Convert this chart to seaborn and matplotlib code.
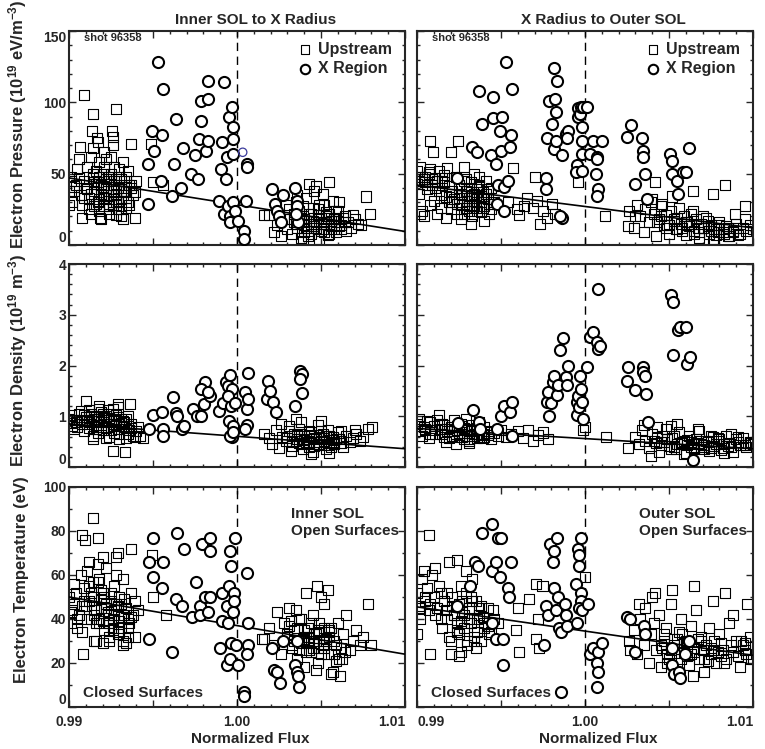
import matplotlib
matplotlib.use("Agg")
import matplotlib.pyplot as plt
import seaborn as sns
from matplotlib.ticker import MultipleLocator

# ---------------- data ----------------
# columns: inner SOL -> X radius (in), X radius -> outer SOL (out)
# rows: pressure (p), density (n), temperature (t)

p_in_sq_x = [0.9901, 0.9903, 0.9902, 0.9905, 0.9904, 0.9907, 0.9906, 0.9909, 0.9908, 0.9911,
             0.9910, 0.9912, 0.9913, 0.9912, 0.9914, 0.9915, 0.9914, 0.9916, 0.9917, 0.9916,
             0.9918, 0.9919, 0.9918, 0.9920, 0.9921, 0.9920, 0.9922, 0.9921, 0.9923, 0.9924,
             0.9923, 0.9925, 0.9926, 0.9925, 0.9927, 0.9928, 0.9927, 0.9929, 0.9930, 0.9929,
             0.9931, 0.9932, 0.9931, 0.9933, 0.9934, 0.9935, 0.9936, 0.9937, 0.9938, 0.9940,
             0.9913, 0.9919, 0.9924, 0.9928, 0.9932, 0.9917, 0.9922, 0.9926, 0.9930, 0.9935,
             0.9909, 0.9914, 0.9928, 0.99135, 0.99256, 0.99264, 0.99165, 0.99065, 0.99367, 0.99486,
             0.99502, 0.99562, 0.99077, 0.99185, 0.99393, 0.9900, 0.9901, 0.9900, 1.0016, 1.0019,
             1.0022, 1.0024, 1.0026, 1.0028, 1.0030, 1.0031, 1.0033, 1.0034, 1.0035, 1.0036,
             1.0037, 1.0038, 1.0039, 1.0040, 1.0041, 1.0042, 1.0043, 1.0044, 1.0045, 1.0046,
             1.0047, 1.0048, 1.0049, 1.0050, 1.0051, 1.0052, 1.0053, 1.0054, 1.0055, 1.0056,
             1.0057, 1.0058, 1.0059, 1.0060, 1.0062, 1.0064, 1.0066, 1.0068, 1.0070, 1.0072,
             1.0029, 1.0036, 1.0043, 1.0047, 1.0051, 1.0039, 1.0055, 1.0061, 1.0077, 1.0079,
             1.0040, 1.0044, 1.0048, 1.0052, 1.0056, 1.0045, 1.0050, 1.0053, 1.0058, 1.0063,
             1.0034, 1.0038, 1.0042, 1.0046, 1.0049, 1.0054, 1.0059, 1.0065, 1.0069, 1.0074,
             0.9915, 0.9918, 0.9922, 0.9925, 0.9928, 0.9931, 0.9934, 0.9920, 0.9926, 0.9933,
             0.9913, 0.9916, 0.9919, 0.9921, 0.9924, 0.9927, 0.9929, 0.9932, 0.9934, 0.9937,
             0.9914, 0.9917, 0.9920, 0.9923, 0.9926, 0.9929, 0.9931, 0.9934, 0.9936, 0.9939,
             0.9903, 0.9906, 0.9909, 0.9911, 0.9915, 0.9918, 0.9922, 0.9925, 0.9928, 0.9931,
             1.0035, 1.0038, 1.0041, 1.0044, 1.0047, 1.0050, 1.0053, 1.0056, 1.0059, 1.0062,
             1.0037, 1.0040, 1.0043, 1.0046, 1.0049, 1.0052, 1.0055, 1.0058, 1.0061, 1.0064]
p_in_sq_y = [48, 38, 30, 53, 42, 35, 60, 45, 28, 55,
             40, 33, 62, 25, 47, 38, 68, 52, 30, 43,
             58, 36, 48, 27, 65, 41, 33, 55, 45, 22,
             38, 50, 30, 62, 42, 35, 55, 25, 48, 40,
             33, 58, 20, 45, 38, 52, 28, 42, 35, 45,
             22, 18, 25, 30, 18, 72, 60, 70, 53, 30,
             105, 92, 95, 80, 80, 76, 75, 69, 71, 71,
             44, 42, 19, 19, 19, 28, 45, 38, 21, 21,
             9, 14, 6, 18, 11, 25, 8, 16, 30, 12,
             20, 5, 27, 14, 33, 10, 22, 8, 17, 38,
             12, 25, 4, 19, 11, 28, 15, 7, 22, 13,
             31, 18, 9, 24, 14, 20, 16, 12, 18, 15,
             28, 35, 43, 41, 36, 3, 44, 30, 34, 22,
             18, 12, 21, 9, 17, 26, 15, 23, 11, 19,
             22, 17, 6, 13, 28, 19, 24, 10, 21, 14,
             44, 32, 40, 46, 36, 42, 48, 50, 28, 38,
             36, 29, 42, 33, 27, 45, 31, 38, 26, 40,
             50, 44, 35, 48, 39, 30, 46, 33, 42, 37,
             41, 47, 33, 39, 27, 24, 46, 35, 21, 25,
             15, 19, 12, 22, 16, 10, 20, 14, 18, 11,
             24, 9, 17, 13, 21, 16, 8, 19, 13, 16]
p_in_ci_x = [0.99472, 0.99492, 0.99506, 0.99472, 0.99532, 0.99558, 0.99556, 0.99546, 0.99611, 0.99627,
             0.99639, 0.99665, 0.99677, 0.99726, 0.99750, 0.99770, 0.99772, 0.99786, 0.99788, 0.99815,
             0.99825, 0.99829, 0.99829, 0.99903, 0.99913, 0.99923, 0.99938, 0.99935, 0.99895, 0.99923,
             0.99944, 0.99958, 0.99958, 0.99954, 0.99972, 0.99978, 0.99978, 0.99978, 0.99978, 0.99990,
             1.00008, 1.00044, 1.00044, 1.00058, 1.00062, 1.00054,
             1.00210, 1.00228, 1.00240, 1.00252, 1.00262, 1.00276, 1.00345, 1.00360, 1.00360, 1.00365, 1.00353]
p_in_ci_y = [29, 80, 66, 57, 128, 109, 77, 45, 34, 57,
             88, 40, 68, 50, 63, 46, 74, 101, 87, 66,
             102, 73, 115, 53, 72, 114, 62, 46, 31, 22,
             27, 20, 16, 90, 97, 83, 74, 64, 30, 24,
             17, 10, 4, 57, 55, 31,
             39, 29, 24, 20, 16, 35, 40, 31, 27, 16, 22]
p_in_odd_x = [1.00034]
p_in_odd_y = [65]

p_out_sq_x = [0.9900, 0.9901, 0.9903, 0.9902, 0.9905, 0.9904, 0.9907, 0.9906, 0.9909, 0.9908,
              0.9911, 0.9913, 0.9912, 0.9915, 0.9914, 0.9917, 0.9916, 0.9919, 0.9918, 0.9921,
              0.9920, 0.9923, 0.9922, 0.9925, 0.9924, 0.9926, 0.9927, 0.9928, 0.9929, 0.9930,
              0.9931, 0.9932, 0.9933, 0.9934, 0.9935, 0.9936, 0.9937, 0.9938, 0.9939, 0.9940,
              0.9941, 0.9942, 0.9943, 0.9944, 0.9946, 0.9926, 0.9929, 0.9932, 0.9935, 0.9938,
              0.9928, 0.9933, 0.9937, 0.9940, 0.9924, 0.9930, 0.9934, 0.9936, 0.9939, 0.9931,
              0.99077, 0.99246, 0.99200, 0.99097, 0.99573, 0.99702, 0.99712, 0.99772, 0.99732, 0.99960,
              0.99593, 0.99637, 0.99692, 0.99802, 0.99821, 1.00119, 0.99540, 0.99610, 0.99655, 0.99750,
              1.0026, 1.0029, 1.0031, 1.0033, 1.0035, 1.0036, 1.0038, 1.0039, 1.0041, 1.0042,
              1.0044, 1.0045, 1.0047, 1.0048, 1.0050, 1.0051, 1.0053, 1.0054, 1.0056, 1.0057,
              1.0059, 1.0060, 1.0062, 1.0063, 1.0065, 1.0066, 1.0068, 1.0069, 1.0071, 1.0072,
              1.0074, 1.0075, 1.0077, 1.0078, 1.0080, 1.0082, 1.0084, 1.0086, 1.0088, 1.0090,
              1.0092, 1.0094, 1.0096, 1.0098, 1.0100, 1.0040, 1.0046, 1.0052, 1.0058, 1.0064,
              1.0070, 1.0076, 1.0083, 1.0089, 1.0095, 1.00833, 1.00764, 1.00645, 1.00417, 1.00952,
              1.00258, 1.0030, 1.0049, 1.0055, 1.0061, 1.0067, 1.0073, 1.0079, 1.0085, 1.0091,
              0.9900, 0.9901, 0.9902, 0.9904, 0.9906, 0.9908, 0.9910, 0.9912, 0.9914, 0.9916,
              0.9925, 0.9927, 0.9929, 0.9931, 0.9933, 0.9935, 0.9937, 0.9939, 0.9941, 0.9943,
              0.9926, 0.9928, 0.9930, 0.9932, 0.9934, 0.9936, 0.9938, 0.9940, 0.9942, 0.9944,
              0.9903, 0.9905, 0.9907, 0.9909, 0.9911, 0.9913, 0.9915, 0.9917, 0.9919, 0.9921,
              1.0043, 1.0048, 1.0053, 1.0058, 1.0063, 1.0068, 1.0073, 1.0078, 1.0083, 1.0088,
              1.0045, 1.0050, 1.0055, 1.0060, 1.0065, 1.0070, 1.0075, 1.0080, 1.0085, 1.0090]
p_out_sq_y = [52, 45, 24, 55, 48, 20, 50, 42, 46, 28,
              40, 52, 22, 47, 35, 19, 44, 30, 54, 38,
              25, 48, 32, 42, 22, 36, 30, 45, 26, 38,
              33, 40, 28, 50, 35, 24, 42, 30, 37, 27,
              45, 32, 22, 40, 30, 18, 46, 15, 26, 34,
              55, 20, 48, 17, 29, 31, 36, 39, 33, 27,
              73, 73, 65, 65, 54, 48, 31, 19, 15, 44,
              25, 27, 26, 29, 22, 20, 30, 21, 33, 24,
              24, 12, 28, 20, 9, 25, 16, 30, 22, 6,
              18, 27, 14, 21, 8, 24, 17, 11, 26, 15,
              20, 7, 13, 22, 10, 18, 5, 15, 12, 19,
              8, 14, 4, 11, 16, 9, 13, 6, 10, 15,
              8, 12, 10, 14, 11, 32, 29, 34, 12, 24,
              20, 3, 8, 22, 18, 42, 36, 38, 44, 27,
              13, 20, 14, 19, 16, 12, 17, 9, 12, 7,
              43, 36, 22, 46, 39, 53, 31, 45, 26, 49,
              33, 28, 38, 24, 35, 30, 41, 26, 36, 29,
              40, 22, 31, 44, 27, 37, 23, 33, 39, 25,
              48, 44, 51, 42, 47, 38, 45, 34, 41, 30,
              16, 12, 18, 10, 15, 9, 13, 7, 11, 9,
              20, 14, 11, 16, 8, 12, 10, 14, 6, 12]
p_out_ci_x = [0.99240, 0.99325, 0.99355, 0.99369, 0.99385, 0.99450, 0.99454, 0.99440, 0.99472, 0.99498,
              0.99508, 0.99494, 0.99484, 0.99474, 0.99518, 0.99518, 0.99530, 0.99544, 0.99554, 0.99560,
              0.99565, 0.99768, 0.99766, 0.99772, 0.99788, 0.99802, 0.99815, 0.99821, 0.99827, 0.99833,
              0.99815, 0.99827, 0.99865, 0.99865, 0.99851, 0.99885, 0.99897, 0.99895, 0.99950, 0.99946,
              0.99956, 0.99960, 0.99970, 0.99980, 0.99980, 0.99980, 0.99980, 0.99976, 0.99986, 1.00010,
              1.00030, 1.00046, 1.00069, 1.00073, 1.00065, 1.00079, 1.00069, 1.00099, 1.00248, 1.00272,
              1.00298, 1.00337, 1.00347, 1.00347, 1.00357, 1.00371, 1.00506, 1.00516, 1.00516, 1.00546,
              1.00556, 1.00585, 1.00599, 1.00621]
p_out_ci_y = [47, 69, 65, 108, 85, 89, 104, 63, 57, 66,
              90, 80, 42, 29, 24, 41, 128, 45, 69, 77,
              109, 47, 39, 75, 101, 85, 124, 102, 93, 115,
              67, 73, 63, 19, 20, 78, 80, 75, 56, 51,
              96, 90, 92, 83, 73, 64, 52, 97, 97, 97,
              64, 73, 62, 60, 50, 39, 34, 73, 76, 84,
              43, 75, 66, 62, 50, 32, 64, 59, 50, 45,
              36, 51, 51, 68]

n_in_sq_x = [0.9900, 0.9902, 0.9901, 0.9904, 0.9903, 0.9906, 0.9905, 0.9908, 0.9907, 0.9910,
             0.9909, 0.9912, 0.9911, 0.9914, 0.9913, 0.9916, 0.9915, 0.9918, 0.9917, 0.9920,
             0.9919, 0.9922, 0.9921, 0.9924, 0.9923, 0.9926, 0.9925, 0.9928, 0.9927, 0.9930,
             0.9929, 0.9932, 0.9931, 0.9934, 0.9933, 0.9936, 0.9935, 0.9938, 0.9937, 0.9940,
             0.9914, 0.9918, 0.9922, 0.9926, 0.9930, 0.9934, 0.9912, 0.9916, 0.9920, 0.9928,
             0.99101, 0.99294, 0.99363, 0.99264, 0.99333, 0.9942, 0.9944, 0.9941, 0.9915, 0.9921,
             1.0016, 1.0019, 1.0021, 1.0023, 1.0025, 1.0027, 1.0029, 1.0031, 1.0033, 1.0034,
             1.0036, 1.0037, 1.0039, 1.0040, 1.0042, 1.0043, 1.0045, 1.0046, 1.0048, 1.0049,
             1.0051, 1.0052, 1.0054, 1.0055, 1.0057, 1.0058, 1.0060, 1.0061, 1.0063, 1.0065,
             1.0067, 1.0069, 1.0071, 1.0073, 1.0075, 1.0026, 1.0032, 1.0038, 1.0044, 1.0050,
             1.0056, 1.0062, 1.0035, 1.0047, 1.0053, 1.00802, 1.00782, 1.0070, 1.0041, 1.0044,
             1.0048, 1.0052, 1.0055, 1.0058, 1.0038, 1.0043, 1.0050, 1.0057, 1.0062, 1.0035,
             0.9908, 0.9911, 0.9913, 0.9916, 0.9918, 0.9921, 0.9923, 0.9926, 0.9928, 0.9931,
             0.9909, 0.9912, 0.9915, 0.9917, 0.9920, 0.9922, 0.9925, 0.9927, 0.9930, 0.9933,
             0.9901, 0.9903, 0.9905, 0.9919, 0.9924, 0.9929, 0.9932, 0.9935, 0.9937, 0.9939,
             1.0030, 1.0033, 1.0036, 1.0039, 1.0041, 1.0044, 1.0046, 1.0049, 1.0052, 1.0055,
             1.0031, 1.0034, 1.0037, 1.0040, 1.0043, 1.0047, 1.0050, 1.0053, 1.0056, 1.0059]
n_in_sq_y = [0.95, 0.80, 1.02, 0.88, 0.75, 1.05, 0.92, 0.85, 1.10, 0.98,
             0.70, 1.12, 0.90, 0.62, 1.05, 0.82, 0.95, 1.15, 0.68, 0.92,
             1.08, 0.78, 0.98, 0.60, 1.12, 0.85, 0.72, 1.02, 0.90, 0.65,
             1.18, 0.80, 0.95, 0.58, 0.88, 0.72, 1.00, 0.62, 0.85, 0.70,
             0.55, 1.20, 0.58, 1.15, 0.55, 0.95, 0.88, 0.75, 1.05, 0.82,
             1.30, 1.25, 1.25, 0.31, 0.29, 0.62, 0.58, 0.78, 1.00, 0.96,
             0.65, 0.58, 0.45, 0.72, 0.38, 0.60, 0.52, 0.80, 0.42, 0.66,
             0.55, 0.75, 0.35, 0.62, 0.48, 0.70, 0.30, 0.58, 0.82, 0.44,
             0.65, 0.52, 0.72, 0.28, 0.60, 0.46, 0.68, 0.55, 0.40, 0.62,
             0.50, 0.58, 0.66, 0.52, 0.60, 0.85, 0.32, 0.88, 0.25, 0.90,
             0.40, 0.70, 0.95, 0.55, 0.35, 0.78, 0.75, 0.72, 0.50, 0.62,
             0.45, 0.58, 0.62, 0.50, 0.66, 0.40, 0.70, 0.54, 0.47, 0.52,
             0.92, 0.85, 1.00, 0.78, 0.95, 0.88, 1.05, 0.80, 0.93, 0.86,
             1.02, 0.76, 0.98, 0.90, 0.72, 1.00, 0.94, 0.68, 0.84, 0.78,
             0.86, 0.92, 0.78, 0.82, 0.96, 0.74, 0.90, 0.66, 0.76, 0.60,
             0.58, 0.50, 0.64, 0.46, 0.56, 0.68, 0.42, 0.60, 0.50, 0.44,
             0.70, 0.62, 0.48, 0.54, 0.64, 0.50, 0.58, 0.62, 0.48, 0.56]
n_in_ci_x = [0.99476, 0.99502, 0.99556, 0.99558, 0.99562, 0.99617, 0.99635, 0.99641, 0.99671, 0.99687,
             0.99736, 0.99760, 0.99784, 0.99810, 0.99788, 0.99804, 0.99839, 0.99829, 0.99895, 0.99915,
             0.99933, 0.99944, 0.99958, 0.99972, 0.99964, 0.99954, 0.99948, 0.99968, 0.99958, 0.99978,
             0.99988, 0.99978, 1.00048, 1.00058, 1.00067, 1.00067, 1.00058, 1.00048, 1.00177, 1.00183,
             1.00196, 1.00212, 1.00230, 1.00345, 1.00375, 1.00385, 1.00375, 1.00385]
n_in_ci_y = [0.75, 1.02, 1.08, 0.74, 0.61, 1.38, 1.07, 1.00, 0.74, 0.80,
             1.15, 1.00, 1.01, 1.67, 1.53, 1.25, 1.40, 1.48, 1.10, 1.27,
             1.67, 1.59, 1.81, 1.54, 1.20, 0.90, 1.40, 0.59, 0.61, 0.80,
             1.27, 0.69, 1.48, 1.15, 1.86, 1.34, 0.82, 0.74, 1.34, 1.69,
             1.50, 1.28, 1.08, 1.21, 1.90, 1.83, 1.74, 1.45]

n_out_sq_x = [0.9900, 0.9902, 0.9901, 0.9904, 0.9903, 0.9906, 0.9905, 0.9908, 0.9907, 0.9910,
              0.9912, 0.9911, 0.9914, 0.9913, 0.9916, 0.9915, 0.9918, 0.9917, 0.9920, 0.9922,
              0.9921, 0.9924, 0.9923, 0.9926, 0.9925, 0.9928, 0.9927, 0.9930, 0.9929, 0.9932,
              0.9931, 0.9934, 0.9933, 0.9936, 0.9935, 0.9938, 0.9937, 0.9940, 0.9942, 0.9944,
              0.9946, 0.9948, 0.9950, 0.9953, 0.9956, 0.9960, 0.9963, 0.9966, 0.9969, 0.9972,
              0.9975, 0.9978, 1.0000, 1.00125, 1.00258, 0.9999, 0.9927, 0.9931, 0.9935, 0.9939,
              1.0030, 1.0032, 1.0034, 1.0036, 1.0038, 1.0040, 1.0042, 1.0044, 1.0046, 1.0048,
              1.0050, 1.0052, 1.0054, 1.0056, 1.0058, 1.0060, 1.0062, 1.0064, 1.0066, 1.0068,
              1.0070, 1.0072, 1.0074, 1.0076, 1.0078, 1.0080, 1.0082, 1.0084, 1.0086, 1.0088,
              1.0090, 1.0092, 1.0094, 1.0096, 1.0098, 1.0100, 1.0035, 1.0043, 1.0051, 1.0059,
              1.0067, 1.0075, 1.0083, 1.0091, 1.0039, 1.0055, 1.0071, 1.0087, 1.0045, 1.0061,
              1.0049, 1.0057, 1.0065, 1.0073, 1.0079, 1.0085, 1.0053, 1.0063, 1.0069, 1.0081,
              0.9915, 0.9918, 0.9921, 0.9924, 0.9927, 0.9930, 0.9933, 0.9936, 0.9939, 0.9942,
              0.9916, 0.9919, 0.9922, 0.9925, 0.9928, 0.9931, 0.9934, 0.9937, 0.9940, 0.9943,
              0.9902, 0.9905, 0.9908, 0.9911, 0.9913,
              1.0041, 1.0045, 1.0049, 1.0053, 1.0057, 1.0061, 1.0065, 1.0069, 1.0073, 1.0077,
              1.0043, 1.0047, 1.0051, 1.0055, 1.0059, 1.0063, 1.0067, 1.0071, 1.0075, 1.0079,
              1.0083, 1.0087, 1.0091, 1.0095, 1.0099]
n_out_sq_y = [0.85, 0.70, 0.95, 0.78, 0.62, 0.90, 0.72, 0.88, 0.58, 0.80,
              0.92, 0.66, 0.75, 1.02, 0.60, 0.84, 0.70, 0.50, 0.78, 0.92,
              0.62, 0.72, 0.45, 0.85, 0.68, 0.55, 0.80, 0.62, 0.95, 0.70,
              0.48, 0.66, 0.82, 0.58, 0.74, 0.64, 0.88, 0.60, 0.70, 0.56,
              0.68, 0.62, 0.72, 0.60, 0.66, 0.70, 0.58, 0.72, 0.52, 0.64,
              0.68, 0.55, 0.79, 0.59, 0.37, 0.72, 0.60, 0.52, 0.66, 0.58,
              0.60, 0.45, 0.72, 0.52, 0.38, 0.66, 0.48, 0.30, 0.62, 0.75,
              0.42, 0.58, 0.35, 0.68, 0.50, 0.28, 0.62, 0.45, 0.55, 0.70,
              0.40, 0.52, 0.32, 0.60, 0.46, 0.56, 0.38, 0.62, 0.48, 0.30,
              0.55, 0.44, 0.58, 0.40, 0.50, 0.46, 0.82, 0.78, 0.80, 0.25,
              0.75, 0.62, 0.28, 0.60, 0.22, 0.85, 0.35, 0.66, 0.50, 0.44,
              0.55, 0.48, 0.36, 0.52, 0.58, 0.42, 0.62, 0.50, 0.40, 0.34,
              0.66, 0.74, 0.60, 0.80, 0.68, 0.72, 0.62, 0.76, 0.66, 0.64,
              0.82, 0.58, 0.70, 0.64, 0.76, 0.56, 0.72, 0.60, 0.78, 0.68,
              0.80, 0.74, 0.66, 0.72, 0.84,
              0.52, 0.44, 0.56, 0.40, 0.48, 0.54, 0.38, 0.46, 0.50, 0.42,
              0.58, 0.50, 0.36, 0.46, 0.52, 0.40, 0.48, 0.44, 0.38, 0.52,
              0.46, 0.40, 0.50, 0.44, 0.48]
n_out_ci_x = [0.99242, 0.99335, 0.99371, 0.99375, 0.99474, 0.99500, 0.99518, 0.99554, 0.99563, 0.99563,
              0.99772, 0.99782, 0.99786, 0.99796, 0.99810, 0.99815, 0.99835, 0.99841, 0.99851, 0.99867,
              0.99885, 0.99897, 0.99891, 0.99950, 0.99950, 0.99960, 0.99964, 0.99970, 0.99976, 0.99980,
              0.99986, 1.00010, 1.00030, 1.00050, 1.00070, 1.00080, 1.00090, 1.00080, 1.00248, 1.00258,
              1.00298, 1.00347, 1.00347, 1.00357, 1.00361, 1.00377, 1.00512, 1.00522, 1.00556, 1.00565,
              1.00599, 1.00522, 1.00605, 1.00625, 1.00645]
n_out_ci_y = [0.87, 1.13, 0.89, 0.75, 0.75, 1.00, 1.21, 1.08, 1.28, 0.61,
              1.28, 1.48, 1.00, 1.27, 1.67, 1.80, 1.41, 1.62, 2.31, 2.54,
              1.77, 2.00, 1.61, 1.28, 1.02, 1.40, 1.18, 1.80, 1.54, 1.28,
              0.95, 1.98, 2.56, 2.66, 2.46, 2.33, 2.39, 3.50, 1.69, 1.97,
              1.51, 1.97, 1.88, 1.80, 1.44, 0.89, 3.38, 3.26, 2.70, 2.75,
              2.75, 2.21, 2.03, 2.16, 0.13]

t_in_sq_x = [0.9900, 0.9901, 0.9903, 0.9902, 0.9905, 0.9904, 0.9907, 0.9906, 0.9909, 0.9908,
             0.9911, 0.9910, 0.9913, 0.9912, 0.9915, 0.9914, 0.9917, 0.9916, 0.9919, 0.9918,
             0.9921, 0.9920, 0.9923, 0.9922, 0.9925, 0.9924, 0.9927, 0.9926, 0.9929, 0.9928,
             0.9931, 0.9930, 0.9933, 0.9932, 0.9935, 0.9934, 0.9937, 0.9936, 0.9939, 0.9941,
             0.9912, 0.9916, 0.9920, 0.9924, 0.9928, 0.9932, 0.9918, 0.9926, 0.9914, 0.9922,
             0.9930, 0.9938, 0.99141, 0.99075, 0.99095, 0.99171, 0.99081, 0.99367, 0.99492, 0.99498,
             0.99575, 0.9929, 0.9934, 0.9920, 1.0016, 1.0019, 1.0022, 1.0024, 1.0026, 1.0028,
             1.0030, 1.0031, 1.0033, 1.0034, 1.0036, 1.0037, 1.0039, 1.0040, 1.0042, 1.0043,
             1.0045, 1.0046, 1.0048, 1.0049, 1.0051, 1.0052, 1.0054, 1.0055, 1.0057, 1.0058,
             1.0060, 1.0061, 1.0063, 1.0065, 1.0067, 1.0069, 1.0071, 1.0073, 1.0032, 1.0038,
             1.0044, 1.0050, 1.0056, 1.0062, 1.0041, 1.0047, 1.0053, 1.0059, 1.0035, 1.00782,
             1.00798, 1.00544, 1.00474, 1.00623, 1.00613, 1.00147, 1.0075, 1.0046, 1.0052, 1.0064,
             0.9915, 0.9919, 0.9923, 0.9927, 0.9931, 0.9935, 1.0040, 1.0048, 1.0055, 1.0058,
             0.9908, 0.9911, 0.9913, 0.9916, 0.9918, 0.9921, 0.9923, 0.9926, 0.9928, 0.9931,
             0.9909, 0.9912, 0.9915, 0.9917, 0.9920, 0.9922, 0.9925, 0.9927, 0.9930, 0.9933,
             0.9901, 0.9903, 0.9905, 0.9919, 0.9924, 0.9929, 0.9932, 0.9935, 0.9937, 0.9939,
             1.0030, 1.0033, 1.0036, 1.0039, 1.0041, 1.0044, 1.0046, 1.0049, 1.0052, 1.0055,
             1.0031, 1.0034, 1.0037, 1.0040, 1.0043, 1.0047, 1.0050, 1.0053, 1.0056, 1.0059,
             1.0038, 1.0042, 1.0045, 1.0048, 1.0051]
t_in_sq_y = [50, 38, 56, 44, 36, 52, 60, 42, 48, 34,
             62, 46, 40, 55, 30, 50, 65, 38, 45, 58,
             35, 52, 42, 63, 48, 30, 55, 40, 46, 68,
             36, 50, 42, 58, 32, 45, 52, 38, 48, 44,
             66, 30, 68, 32, 60, 28, 40, 35, 57, 47,
             39, 42, 86, 78, 76, 77, 24, 72, 69, 50,
             42, 70, 29, 29, 31, 36, 28, 43, 24, 38,
             32, 45, 27, 35, 22, 40, 30, 18, 36, 26,
             42, 33, 20, 38, 28, 47, 24, 34, 16, 30,
             38, 22, 33, 42, 26, 30, 35, 28, 39, 29,
             25, 50, 15, 27, 52, 17, 31, 21, 44, 47,
             28, 53, 55, 22, 14, 31, 32, 30, 36, 25,
             44, 49, 38, 42, 47, 40, 32, 27, 35, 24,
             46, 40, 52, 44, 38, 50, 43, 36, 47, 41,
             54, 48, 42, 57, 39, 45, 52, 44, 34, 49,
             43, 47, 40, 53, 38, 33, 30, 36, 41, 32,
             33, 28, 36, 31, 25, 38, 29, 34, 27, 32,
             37, 30, 26, 35, 29, 33, 24, 30, 36, 28,
             40, 32, 27, 35, 30]
t_in_ci_x = [0.99476, 0.99478, 0.99498, 0.99502, 0.99556, 0.99558, 0.99615, 0.99641, 0.99635, 0.99673,
             0.99687, 0.99730, 0.99756, 0.99782, 0.99780, 0.99792, 0.99808, 0.99829, 0.99839, 0.99841,
             0.99839, 0.99899, 0.99909, 0.99913, 0.99944, 0.99954, 0.99958, 0.99962, 0.99940, 0.99966,
             0.99938, 0.99958, 0.99974, 0.99984, 0.99984, 0.99988, 0.99992, 1.00008, 1.00058, 1.00064,
             1.00058, 1.00064, 1.00044, 1.00044, 1.00210, 1.00222, 1.00236, 1.00256, 1.00272, 1.00343,
             1.00360, 1.00365, 1.00370, 1.00360]
t_in_ci_y = [31, 66, 77, 59, 54, 66, 25, 79, 49, 46,
             72, 41, 57, 46, 42, 74, 50, 43, 50, 77,
             71, 27, 39, 52, 38, 55, 71, 64, 46, 29,
             19, 22, 43, 52, 48, 77, 28, 19, 61, 28,
             24, 38, 7, 5, 27, 17, 16, 11, 30, 19,
             16, 14, 9, 30]

t_out_sq_x = [0.9900, 0.9901, 0.9903, 0.9902, 0.9905, 0.9904, 0.9907, 0.9906, 0.9909, 0.9910,
              0.9912, 0.9911, 0.9914, 0.9913, 0.9916, 0.9915, 0.9918, 0.9917, 0.9920, 0.9922,
              0.9921, 0.9924, 0.9923, 0.9926, 0.9925, 0.9928, 0.9927, 0.9930, 0.9929, 0.9932,
              0.9931, 0.9934, 0.9933, 0.9936, 0.9935, 0.9938, 0.9937, 0.9940, 0.9942, 0.9944,
              0.9946, 0.9948, 0.9926, 0.9929, 0.9932, 0.9935, 0.9924, 0.9930, 0.9920, 0.9938,
              0.99070, 0.99239, 0.99189, 0.99080, 0.99249, 0.99608, 0.99707, 0.99747, 0.99667, 0.99588,
              0.99707, 0.99727, 1.0000, 0.9900, 0.9960, 0.9972, 1.0026, 1.0029, 1.0031, 1.0033,
              1.0035, 1.0036, 1.0038, 1.0039, 1.0041, 1.0042, 1.0044, 1.0045, 1.0047, 1.0048,
              1.0050, 1.0051, 1.0053, 1.0054, 1.0056, 1.0057, 1.0059, 1.0060, 1.0062, 1.0063,
              1.0065, 1.0066, 1.0068, 1.0069, 1.0071, 1.0072, 1.0074, 1.0075, 1.0077, 1.0078,
              1.0080, 1.0082, 1.0084, 1.0086, 1.0088, 1.0090, 1.0092, 1.0094, 1.0096, 1.0098,
              1.0100, 1.0040, 1.0052, 1.0064, 1.0076, 1.0088, 1.00648, 1.00418, 1.00319, 1.00833,
              1.00962, 1.00952, 1.00269, 1.0046, 1.0055, 1.0061, 1.0070, 1.0081, 1.0049, 1.0058,
              0.9918, 0.9921, 0.9924, 0.9927, 0.9930, 0.9933, 0.9936, 0.9939, 0.9942, 0.9945,
              0.9919, 0.9922, 0.9925, 0.9928, 0.9931, 0.9934, 0.9937, 0.9940, 0.9943, 0.9926,
              0.9902, 0.9905, 0.9908, 0.9911, 0.9914,
              1.0045, 1.0049, 1.0053, 1.0057, 1.0061, 1.0065, 1.0069, 1.0073, 1.0077, 1.0081,
              1.0047, 1.0051, 1.0055, 1.0059, 1.0063, 1.0067, 1.0071, 1.0075, 1.0079, 1.0083,
              1.0087, 1.0091, 1.0095, 1.0099, 1.0093]
t_out_sq_y = [52, 46, 58, 40, 48, 62, 44, 54, 60, 50,
              45, 63, 40, 55, 48, 36, 52, 44, 30, 42,
              50, 38, 46, 55, 33, 42, 48, 28, 52, 38,
              45, 32, 58, 40, 48, 30, 42, 36, 45, 34,
              40, 38, 25, 62, 50, 27, 34, 30, 24, 46,
              78, 67, 66, 24, 23, 25, 56, 55, 49, 35,
              31, 27, 59, 33, 45, 40, 30, 35, 24, 40,
              28, 45, 20, 33, 38, 26, 42, 18, 30, 36,
              22, 47, 28, 15, 34, 40, 25, 30, 19, 37,
              27, 44, 22, 32, 16, 28, 36, 24, 30, 20,
              33, 26, 22, 38, 25, 30, 18, 28, 24, 32,
              22, 50, 53, 14, 48, 42, 55, 52, 47, 52,
              47, 29, 26, 27, 31, 23, 26, 29, 20, 33,
              40, 46, 35, 43, 38, 48, 34, 41, 37, 44,
              32, 42, 47, 36, 40, 30, 45, 38, 33, 39,
              45, 50, 47, 42, 52,
              28, 24, 31, 22, 27, 25, 30, 21, 26, 23,
              33, 26, 20, 29, 24, 31, 22, 27, 25, 20,
              28, 23, 26, 22, 30]
t_out_ci_x = [0.99236, 0.99313, 0.99345, 0.99363, 0.99385, 0.99444, 0.99484, 0.99498, 0.99448, 0.99468,
              0.99444, 0.99468, 0.99494, 0.99512, 0.99512, 0.99544, 0.99548, 0.99558, 0.99757, 0.99767,
              0.99777, 0.99791, 0.99807, 0.99817, 0.99817, 0.99831, 0.99837, 0.99827, 0.99847, 0.99857,
              0.99883, 0.99887, 0.99893, 0.99857, 0.99946, 0.99952, 0.99956, 0.99966, 0.99966, 0.99976,
              0.99976, 0.99966, 0.99982, 0.99976, 1.00020, 1.00030, 1.00046, 1.00076, 1.00070, 1.00080,
              1.00070, 1.00100, 1.00249, 1.00269, 1.00299, 1.00349, 1.00359, 1.00518, 1.00518, 1.00528,
              1.00558, 1.00564, 1.00598, 1.00618]
t_out_ci_y = [46, 55, 66, 64, 79, 83, 77, 77, 38, 31,
              62, 66, 59, 31, 19, 54, 50, 66, 28, 46,
              42, 74, 66, 71, 54, 77, 50, 44, 36, 34,
              47, 42, 37, 7, 56, 38, 72, 69, 64, 52,
              48, 45, 44, 77, 47, 24, 27, 25, 20, 16,
              9, 29, 41, 40, 25, 37, 33, 27, 19, 15,
              16, 13, 24, 30]

# straight-line fits (value at 0.99 and 1.01)
fit_x = [0.99, 1.01]
p_in_fit = [47, 9.5]
p_out_fit = [42, 12]
n_in_fit = [0.85, 0.36]
n_out_fit = [0.76, 0.36]
t_in_fit = [50, 24]
t_out_fit = [45.5, 23.5]

col_titles = ["Inner SOL to X Radius", "X Radius to Outer SOL"]
row_labels = ["Electron Pressure (10$^{19}$ eV/m$^{-3}$)",
              "Electron Density (10$^{19}$ m$^{-3}$)",
              "Electron Temperature (eV)"]
row_yticks = [[0, 50, 100, 150], [0, 1, 2, 3, 4], [0, 20, 40, 60, 80, 100]]
row_minor = [10, 0.2, 10]
x_ticks = [0.99, 0.995, 1.00, 1.005, 1.01]
x_ticklabels = ["0.99", "", "1.00", "", "1.01"]

# ---------------- style ----------------
sns.set_style("ticks")
plt.rcParams["font.family"] = ["Liberation Sans", "DejaVu Sans"]
plt.rcParams["font.weight"] = "bold"
plt.rcParams["mathtext.fontset"] = "custom"
plt.rcParams["mathtext.rm"] = "Liberation Sans:bold"
plt.rcParams["mathtext.it"] = "Liberation Sans:bold"
plt.rcParams["mathtext.bf"] = "Liberation Sans:bold"

fig = plt.figure(figsize=(7.65, 7.49), dpi=100)
col_left = [0.0902, 0.5451]
col_w = 0.4392
rows = [(0.6729, 0.2857), (0.3765, 0.2710), (0.0561, 0.2937)]
label_y = [0.563, 0.527, 0.577]

panels = [
    (0, 0, p_in_sq_x, p_in_sq_y, p_in_ci_x, p_in_ci_y, p_in_fit),
    (0, 1, p_out_sq_x, p_out_sq_y, p_out_ci_x, p_out_ci_y, p_out_fit),
    (1, 0, n_in_sq_x, n_in_sq_y, n_in_ci_x, n_in_ci_y, n_in_fit),
    (1, 1, n_out_sq_x, n_out_sq_y, n_out_ci_x, n_out_ci_y, n_out_fit),
    (2, 0, t_in_sq_x, t_in_sq_y, t_in_ci_x, t_in_ci_y, t_in_fit),
    (2, 1, t_out_sq_x, t_out_sq_y, t_out_ci_x, t_out_ci_y, t_out_fit),
]

for r, c, sx, sy, cx, cy, fit in panels:
    ax = fig.add_axes([col_left[c], rows[r][0], col_w, rows[r][1]])

    ax.axvline(1.0, color="black", lw=1.0, ls=(0, (6, 4)), zorder=1)
    sns.scatterplot(x=sx, y=sy, ax=ax, marker="s", s=52, facecolor="none",
                    edgecolor="black", linewidth=0.8, label="Upstream",
                    legend=False, zorder=2)
    ax.plot(fit_x, fit, color="black", lw=1.2, zorder=3)
    sns.scatterplot(x=cx, y=cy, ax=ax, marker="o", s=64, facecolor="white",
                    edgecolor="black", linewidth=1.5, label="X Region",
                    legend=False, zorder=4)
    if r == 0 and c == 0:
        sns.scatterplot(x=p_in_odd_x, y=p_in_odd_y, ax=ax, marker="o", s=36,
                        facecolor="none", edgecolor="#3b3b9c", linewidth=0.9,
                        legend=False, zorder=4)

    ax.set_xlim(0.99, 1.01)
    ax.set_ylim(row_yticks[r][0], row_yticks[r][-1])
    ax.set_xticks(x_ticks)
    ax.xaxis.set_minor_locator(MultipleLocator(0.001))
    ax.set_yticks(row_yticks[r])
    ax.yaxis.set_minor_locator(MultipleLocator(row_minor[r]))
    ax.tick_params(which="both", direction="in", top=True, right=True, width=1.0,
                   labelsize=10, pad=2)
    ax.tick_params(which="major", length=5)
    ax.tick_params(which="minor", length=2.5)
    ax.tick_params(axis="x", pad=6)
    for sp in ax.spines.values():
        sp.set_linewidth(1.5)

    ax.set_xlabel("")
    ax.set_ylabel("")
    if r == 2:
        ax.set_xticklabels(x_ticklabels, fontweight="bold")
        xl = ax.get_xticklabels()
        xl[-1].set_ha("right")
        if c == 1:
            xl[0].set_ha("left")
        ax.set_xlabel("Normalized Flux", fontsize=11, fontweight="bold")
        ax.xaxis.set_label_coords(0.54, -0.115)
    else:
        ax.set_xticklabels([])

    if c == 0:
        ax.set_yticklabels([str(v) for v in row_yticks[r]], fontweight="bold")
        yl = ax.get_yticklabels()
        yl[0].set_va("bottom")
        if r == 0:
            yl[-1].set_va("top")
        ax.set_ylabel(row_labels[r], fontsize=12, fontweight="bold")
        ax.yaxis.set_label_coords(-0.12, label_y[r])
    else:
        ax.set_yticklabels([])

    if r == 0:
        ax.set_title(col_titles[c], x=0.556, pad=5, fontsize=11, fontweight="bold")
        ax.text(0.045, 0.965, "shot 96358", transform=ax.transAxes, fontsize=8,
                fontweight="bold", va="center", ha="left")
        ax.legend(loc="upper right", bbox_to_anchor=(0.96, 0.95), frameon=False,
                  prop={"weight": "bold", "size": 11.5}, handletextpad=0.3,
                  labelspacing=0.3, borderaxespad=0, borderpad=0,
                  handlelength=1.0, markerscale=0.85)

    if r == 2:
        ax.text(1.0032, 84, ["Inner SOL", "Outer SOL"][c] + "\nOpen Surfaces",
                fontsize=11, fontweight="bold", va="center", ha="left",
                linespacing=1.3, zorder=3)
        ax.text(0.99083, 6.4, "Closed Surfaces", fontsize=11, fontweight="bold",
                va="center", ha="left", zorder=3)

fig.savefig("out.png", dpi=100)
